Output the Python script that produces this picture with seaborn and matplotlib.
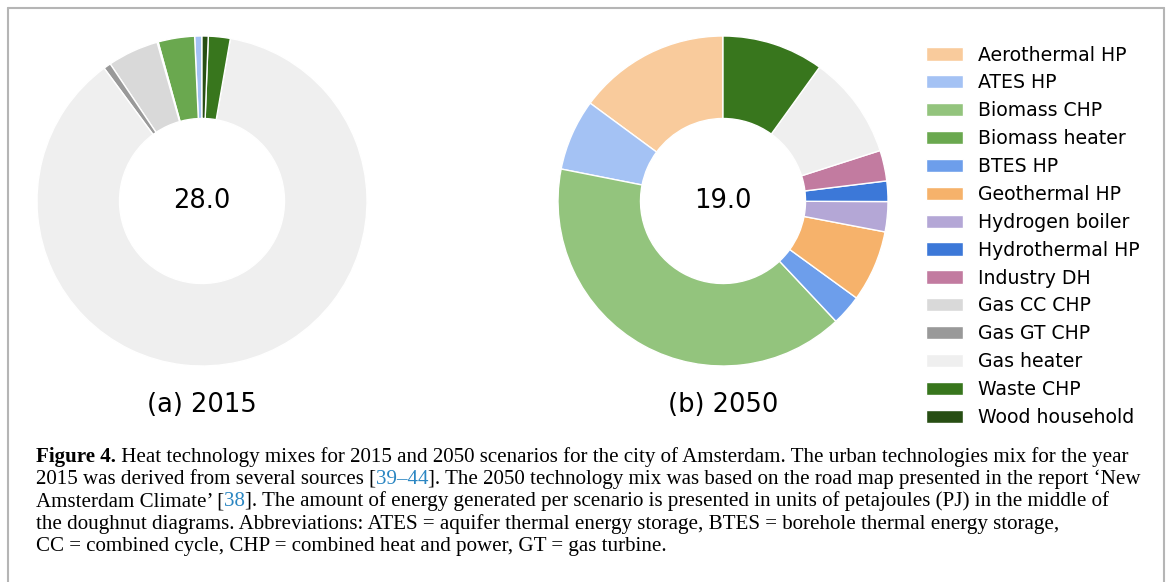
import matplotlib
matplotlib.use("Agg")
import matplotlib.pyplot as plt
from matplotlib.patches import Patch
from matplotlib.lines import Line2D
import seaborn as sns

# Heat technology mixes (PJ) for Amsterdam, 2015 vs 2050
technologies = ["Aerothermal HP", "ATES HP", "Biomass CHP", "Biomass heater", "BTES HP",
                "Geothermal HP", "Hydrogen boiler", "Hydrothermal HP", "Industry DH",
                "Gas CC CHP", "Gas GT CHP", "Gas heater", "Waste CHP", "Wood household"]
values_2015 = [0, 0.2, 0, 1.0, 0.03, 0, 0, 0, 0, 1.4, 0.2, 24.4, 0.6, 0.17]
values_2050 = [2.83, 1.33, 7.62, 0, 0.57, 1.33, 0.56, 0.38, 0.57, 0, 0, 1.92, 1.89, 0]
totals = ["28.0", "19.0"]
panel_labels = ["(a) 2015", "(b) 2050"]

palette = sns.color_palette(["#f9cb9c", "#a4c2f4", "#93c47d", "#6aa84f", "#6d9eeb",
                             "#f6b26b", "#b4a7d6", "#3c78d8", "#c27ba0", "#d9d9d9",
                             "#999999", "#efefef", "#38761d", "#274e13"])

sns.set_theme(style="white")
plt.rcParams["font.family"] = ["DejaVu Sans"]
plt.rcParams["text.color"] = "black"

W, H = 1166, 582
fig = plt.figure(figsize=(W / 100, H / 100), dpi=100)


def px_axes(cx, cy, r):
    return fig.add_axes([(cx - r) / W, 1 - (cy + r) / H, 2 * r / W, 2 * r / H])


centers = [(202, 201), (723, 201)]
for (cx, cy), vals, tot, lab in zip(centers, [values_2015, values_2050], totals, panel_labels):
    ax = px_axes(cx, cy, 165)
    v = [x for x in vals if x > 0]
    c = [col for x, col in zip(vals, palette) if x > 0]
    ax.pie(v, colors=c, startangle=90, counterclock=True,
           wedgeprops=dict(width=0.5, edgecolor="white", linewidth=1))
    ax.set_xlim(-1, 1)
    ax.set_ylim(-1, 1)
    ax.set_aspect("equal")
    ax.axis("off")
    ax.text(0, 0, tot, ha="center", va="center", fontsize=18.5, color="black")
    fig.text(cx / W, 1 - 405 / H, lab, ha="center", va="center", fontsize=18.5, color="black")

handles = [Patch(facecolor=col, edgecolor="white", linewidth=1) for col in palette]
fig.legend(handles, technologies, loc="upper left",
           bbox_to_anchor=(918 / W, 1 - 38 / H), frameon=False, fontsize=13.6,
           labelspacing=0.47, handlelength=2.0, handletextpad=0.8, borderpad=0.4,
           borderaxespad=0, labelcolor="black")

# outer frame of the figure panel
fc = "#b5b5b5"
for xs, ys in [([8, 1164], [8, 8]), ([8, 8], [8, 582]), ([1164, 1164], [8, 582])]:
    fig.add_artist(Line2D([x / W for x in xs], [1 - y / H for y in ys], color=fc, lw=1.5))

# caption
serif = ["Liberation Serif", "DejaVu Serif"]
blue = "#2a86c2"
cap_size = 15.1
caption = [
    [("Figure 4.", "bold", "black"),
     (" Heat technology mixes for 2015 and 2050 scenarios for the city of Amsterdam. The urban technologies mix for the year", "normal", "black")],
    [("2015 was derived from several sources [", "normal", "black"), ("39\u201344", "normal", blue),
     ("]. The 2050 technology mix was based on the road map presented in the report \u2018New", "normal", "black")],
    [("Amsterdam Climate\u2019 [", "normal", "black"), ("38", "normal", blue),
     ("]. The amount of energy generated per scenario is presented in units of petajoules (PJ) in the middle of", "normal", "black")],
    [("the doughnut diagrams. Abbreviations: ATES = aquifer thermal energy storage, BTES = borehole thermal energy storage,", "normal", "black")],
    [("CC = combined cycle, CHP = combined heat and power, GT = gas turbine.", "normal", "black")],
]
renderer = fig.canvas.get_renderer()
for i, segs in enumerate(caption):
    x = 36
    y = 462 + i * 22.2
    for txt, wt, col in segs:
        t = fig.text(x / W, 1 - y / H, txt, family=serif, fontsize=cap_size, weight=wt,
                     color=col, ha="left", va="baseline")
        x += t.get_window_extent(renderer).width

fig.savefig("out.png", dpi=100, facecolor="white")
